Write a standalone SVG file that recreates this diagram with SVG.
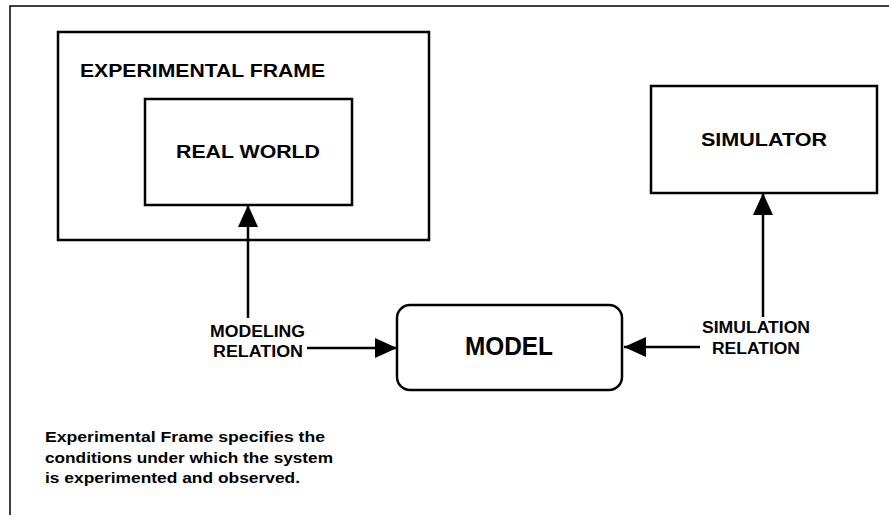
<svg xmlns="http://www.w3.org/2000/svg" width="889" height="517" viewBox="0 0 889 517">
  <style>
    .box { fill: #ffffff; stroke: #000000; stroke-width: 2.5; }
    .frame { fill: none; stroke: #000000; stroke-width: 1.5; }
    .lbl { font-family: "Liberation Sans", Arial, sans-serif; font-weight: bold; fill: #000000; }
    .conn { stroke: #000000; stroke-width: 2.5; fill: none; }
  </style>
  <defs>
    <marker id="head" viewBox="0 0 22 20" refX="22" refY="10" markerWidth="22" markerHeight="20" markerUnits="userSpaceOnUse" orient="auto">
      <path d="M0,0 L22,10 L0,20 Z" fill="#000000"/>
    </marker>
  </defs>

  <rect width="889" height="517" fill="#ffffff"/>

  <!-- page frame: top and left rules -->
  <path class="frame" d="M10,515 L10,6 L889,6"/>

  <g id="experimental-frame">
    <rect class="box" x="58" y="32" width="371" height="208"/>
    <text class="lbl" x="80" y="77" font-size="17.5" textLength="245" lengthAdjust="spacingAndGlyphs">EXPERIMENTAL FRAME</text>
  </g>

  <g id="real-world">
    <rect class="box" x="145" y="99" width="207" height="106"/>
    <text class="lbl" x="176" y="158" font-size="17.5" textLength="144" lengthAdjust="spacingAndGlyphs">REAL WORLD</text>
  </g>

  <g id="simulator">
    <rect class="box" x="651" y="86" width="226" height="107"/>
    <text class="lbl" x="701" y="146" font-size="17.5" textLength="126" lengthAdjust="spacingAndGlyphs">SIMULATOR</text>
  </g>

  <g id="model">
    <rect class="box" x="397" y="305" width="225" height="85" rx="13" ry="13"/>
    <text class="lbl" x="465" y="355" font-size="25" textLength="88" lengthAdjust="spacingAndGlyphs">MODEL</text>
  </g>

  <g id="connectors">
    <line class="conn" x1="248" y1="318" x2="248" y2="205" marker-end="url(#head)"/>
    <line class="conn" x1="763" y1="317" x2="763" y2="193" marker-end="url(#head)"/>
    <line class="conn" x1="307" y1="348" x2="397" y2="348" marker-end="url(#head)"/>
    <line class="conn" x1="700" y1="347" x2="624" y2="347" marker-end="url(#head)"/>
  </g>

  <g id="modeling-relation">
    <text class="lbl" x="210" y="337" font-size="16" textLength="95" lengthAdjust="spacingAndGlyphs">MODELING</text>
    <text class="lbl" x="213" y="357" font-size="16" textLength="90" lengthAdjust="spacingAndGlyphs">RELATION</text>
  </g>

  <g id="simulation-relation">
    <text class="lbl" x="702" y="333" font-size="16" textLength="108" lengthAdjust="spacingAndGlyphs">SIMULATION</text>
    <text class="lbl" x="712" y="354" font-size="16" textLength="88" lengthAdjust="spacingAndGlyphs">RELATION</text>
  </g>

  <g id="note">
    <text class="lbl" x="45" y="442" font-size="15" textLength="280" lengthAdjust="spacingAndGlyphs">Experimental Frame specifies the</text>
    <text class="lbl" x="45" y="463" font-size="15" textLength="288" lengthAdjust="spacingAndGlyphs">conditions under which the system</text>
    <text class="lbl" x="45" y="483" font-size="15" textLength="255" lengthAdjust="spacingAndGlyphs">is experimented and observed.</text>
  </g>
</svg>
